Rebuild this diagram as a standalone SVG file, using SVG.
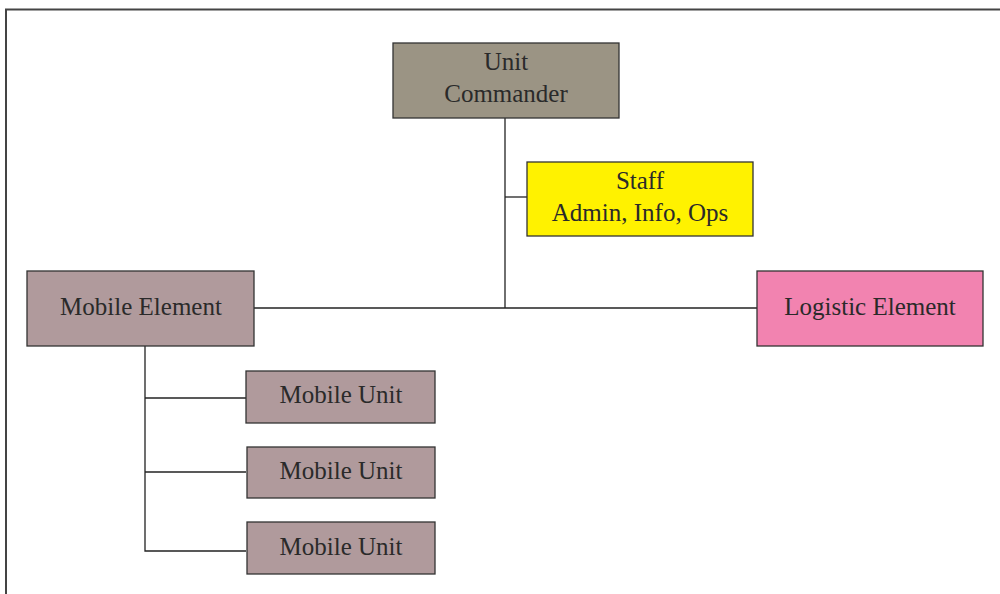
<svg xmlns="http://www.w3.org/2000/svg" width="1000" height="594" viewBox="0 0 1000 594">
<style>
.box{stroke:#333;stroke-width:1.3}
.t{font-family:"Liberation Serif",serif;font-size:25px;fill:#2a2a2a;text-anchor:middle}
.c{stroke:#222;stroke-width:1.3;fill:none}
</style>
<rect width="1000" height="594" fill="#fff"/>
<path d="M6,594 V9.5 H1000" fill="none" stroke="#444" stroke-width="2"/>
<g id="connectors" class="c">
<path d="M505,118 V308"/>
<path d="M505,197 H527"/>
<path d="M254,308 H757"/>
<path d="M145,346 V551 H246"/>
<path d="M145,398 H246"/>
<path d="M145,472 H246"/>
</g>
<g id="unit-commander">
<rect class="box" x="393" y="43" width="226" height="75" fill="#9b9484"/>
<text class="t" x="506" y="70">Unit</text>
<text class="t" x="506" y="102">Commander</text>
</g>
<g id="staff">
<rect class="box" x="527" y="162" width="226" height="74" fill="#fff200"/>
<text class="t" x="640" y="189">Staff</text>
<text class="t" x="640" y="221">Admin, Info, Ops</text>
</g>
<g id="mobile-element">
<rect class="box" x="27" y="271" width="227" height="75" fill="#b09a9c"/>
<text class="t" x="141" y="315">Mobile Element</text>
</g>
<g id="logistic-element">
<rect class="box" x="757" y="271" width="226" height="75" fill="#f283b0"/>
<text class="t" x="870" y="315">Logistic Element</text>
</g>
<g id="mobile-unit-1">
<rect class="box" x="246" y="371" width="189" height="52" fill="#b09a9c"/>
<text class="t" x="341" y="403">Mobile Unit</text>
</g>
<g id="mobile-unit-2">
<rect class="box" x="247" y="447" width="188" height="51" fill="#b09a9c"/>
<text class="t" x="341" y="479">Mobile Unit</text>
</g>
<g id="mobile-unit-3">
<rect class="box" x="247" y="522" width="188" height="52" fill="#b09a9c"/>
<text class="t" x="341" y="555">Mobile Unit</text>
</g>
</svg>
